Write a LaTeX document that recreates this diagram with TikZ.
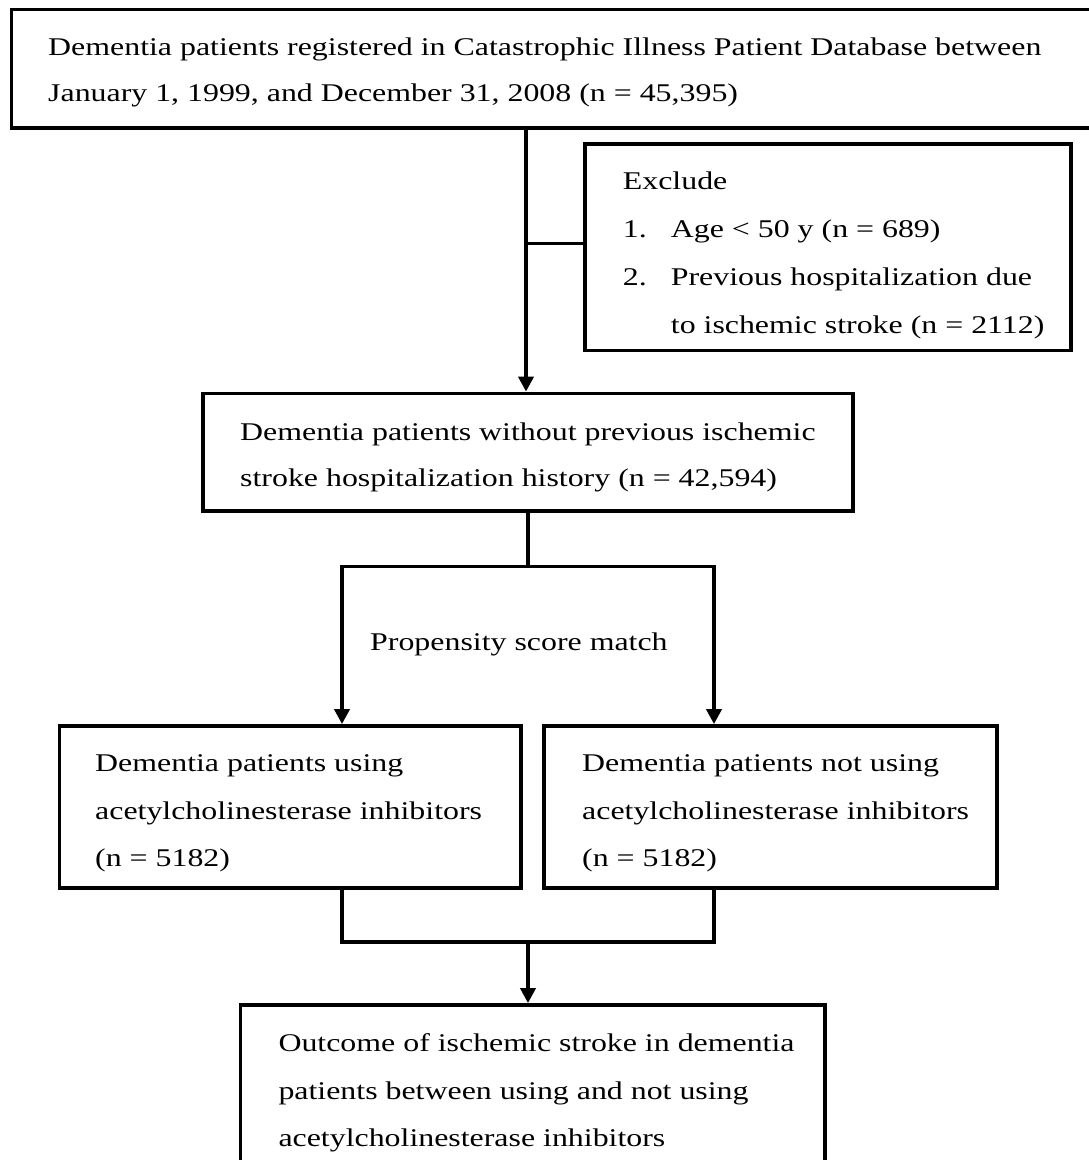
\documentclass[tikz,border=0pt]{standalone}
\usepackage{fontspec}
\setmainfont{Liberation Serif}[FakeStretch=1.25]
\usetikzlibrary{arrows.meta}
\begin{document}
\begin{tikzpicture}[x=1pt,y=-1pt,
  box/.style={draw, line width=3.8pt, inner sep=0pt, rectangle},
  conn/.style={line width=3.8pt},
  arr/.style={conn, -{Triangle[length=15pt,width=15pt]}},
  txt/.style={anchor=north west, inner sep=0pt, align=left,
    font=\fontsize{25.5pt}{#1}\selectfont},
  txt/.default=47.5pt]
\useasboundingbox (0,0) rectangle (1089,1160);
\clip (0,0) rectangle (1089,1160);
\fill[white] (0,0) rectangle (1089,1160);
% boxes
\node[box, minimum width=1088.5pt, minimum height=118.5pt] (top) at (555.75,68.75) {};
\node[box, minimum width=486pt, minimum height=206.5pt] (excl) at (828,247.25) {};
\node[box, minimum width=650pt, minimum height=117.5pt] (mid) at (528,452.25) {};
\node[box, minimum width=461.5pt, minimum height=162pt] (use) at (290.25,807) {};
\node[box, minimum width=453pt, minimum height=162pt] (nouse) at (770.5,807) {};
\node[box, minimum width=584.5pt, minimum height=205pt] (out) at (532.75,1107.5) {};
% texts
\node[txt=46pt] (toptxt) at (48,34) {\rule{0pt}{21pt}Dementia patients registered in Catastrophic Illness Patient Database between\\January 1, 1999, and December 31, 2008 (n = 45,395)};
\node[txt=48pt] (excltxt) at (622.7,168.5) {\rule{0pt}{21pt}Exclude\\
\makebox[48pt][l]{1.}Age < 50 y (n = 689)\\
\makebox[48pt][l]{2.}Previous hospitalization due\\
\hspace*{48pt}to ischemic stroke (n = 2112)};
\node[txt=46.7pt] (midtxt) at (240,419) {\rule{0pt}{21pt}Dementia patients without previous ischemic\\stroke hospitalization history (n = 42,594)};
\node[txt] (psm) at (370,629) {\rule{0pt}{21pt}Propensity score match};
\node[txt] (usetxt) at (95,750.7) {\rule{0pt}{21pt}Dementia patients using\\acetylcholinesterase inhibitors\\(n = 5182)};
\node[txt] (nousetxt) at (582,750.7) {\rule{0pt}{21pt}Dementia patients not using\\acetylcholinesterase inhibitors\\(n = 5182)};
\node[txt=47.8pt] (outtxt) at (278.3,1030) {\rule{0pt}{21pt}Outcome of ischemic stroke in dementia\\patients between using and not using\\acetylcholinesterase inhibitors};
% connectors
\coordinate (s1) at (526,243.5);
\coordinate (j1) at (528,566.5);
\coordinate (jl) at (342,566.5);
\coordinate (jr) at (714,566.5);
\coordinate (m) at (528,942);
\draw[arr] (top.south -| s1) -- (mid.north -| s1);
\draw[conn] (s1) -- (excl.west |- s1);
\draw[arr] (mid.south) -- (j1) -| (use.north -| jl);
\draw[arr] (j1) -| (nouse.north -| jr);
\draw[conn] (use.south -| jl) -- (jl |- m) -- (jr |- m) -- (nouse.south -| jr);
\draw[arr] (m) -- (out.north -| m);
\end{tikzpicture}
\end{document}
